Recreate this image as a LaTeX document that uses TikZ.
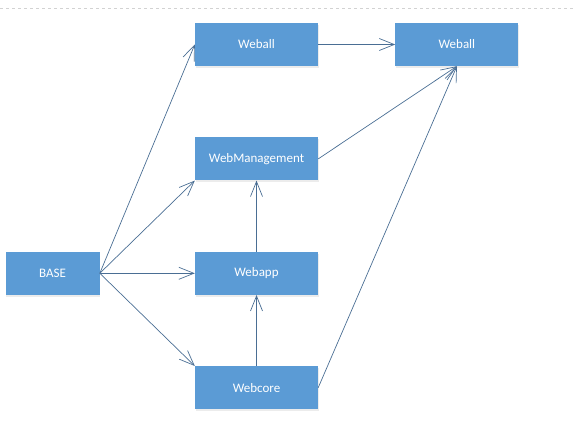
\documentclass[tikz,border=0pt]{standalone}
\usepackage{fontspec}
\setmainfont{Carlito}
\usetikzlibrary{positioning,arrows.meta,shadows}

\begin{document}
\begin{tikzpicture}[x=1pt,y=1pt,
box/.style = {fill=boxblue,text=white,minimum width=123pt,minimum height=43pt,
  inner sep=0pt,font=\fontsize{13}{15}\selectfont,
  drop shadow={opacity=0.15,shadow xshift=0.5pt,shadow yshift=-2pt}},   % boxes
link/.style = {draw=linkblue,line width=0.7pt,-{Straight Barb[length=15pt,width=12pt,line width=0.7pt]}}]
\definecolor{boxblue}{HTML}{5B9BD5}
\definecolor{linkblue}{HTML}{4A6E94}
\useasboundingbox (0,0) rectangle (576,442);
\draw[gray!35,dashed,line width=0.8pt] (0,434) -- (576,434);
\node[box] (weballA) at (256.5,397.5) {Weball};
\node[box,right=77pt of weballA] (weballB) {Weball};
\node[box,below=71pt of weballA] (webmgmt) {WebManagement};
\node[box,below=71pt of webmgmt] (webapp) {Webapp};
\node[box,below=71pt of webapp] (webcore) {Webcore};
\node[box,minimum width=94pt,left=95pt of webapp] (base) {BASE};
% from BASE
\draw[link] (base.east) -- (weballA.west);
\draw[link] (base.east) -- (webmgmt.south west);
\draw[link] (base.east) -- (webapp.west);
\draw[link] (base.east) -- (webcore.north west);
% upward
\draw[link] (webcore.north) -- (webapp.south);
\draw[link] (webapp.north) -- (webmgmt.south);
% into the second Weball
\draw[link] (weballA.east) -- (weballB.west);
\draw[link] (webmgmt.east) -- (weballB.south);
\draw[link] (webcore.east) -- (weballB.south);
\end{tikzpicture}
\end{document}
